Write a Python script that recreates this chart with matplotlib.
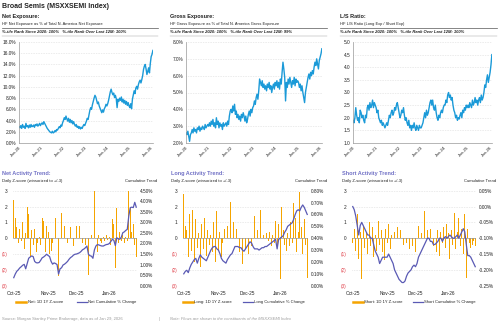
import matplotlib
matplotlib.use('Agg')
import matplotlib.pyplot as plt
import pandas as pd

plt.rcParams['font.family'] = ['Liberation Sans', 'DejaVu Sans']

W, H = 500, 326
BLUE = '#1b9ad8'
ORANGE = '#f5a400'
PURPLE = '#5a5ab4'
HEAD = '#7272c6'
GRID = '#c4c4c4'
RED = '#e0404a'
TXT = '#222222'

# ---- positioning exposure history (bi-weekly samples, Jan-20 .. Jan-26) ----
NET_EXPOSURE = [
    2.9, 2.7, 3.1, 2.6, 3.3, 2.8, 3.0, 2.6, 3.5, 2.9, 3.1, 2.7, 3.2, 2.8, 3.3, 2.9, 3.0, 3.2, 2.8, 3.3, 3.1, 3.4, 3.0, 3.2, 3.5, 3.1,
    3.4, 3.6, 3.3, 3.8, 3.5, 3.2, 2.9, 2.6, 2.4, 2.2, 2.0, 1.9, 1.8, 2.1, 1.8, 1.9, 2.2, 2.0, 2.4, 2.3, 2.6, 2.9, 2.7, 3.2, 3.0, 3.6,
    4.0, 4.5, 4.2, 4.8, 4.3, 3.9, 4.4, 3.7, 4.2, 3.6, 4.0, 3.4, 3.8, 3.3, 3.0, 3.3, 2.8, 3.0, 2.6, 2.9, 2.5, 2.8, 2.6, 3.0, 3.3, 3.1,
    3.5, 3.9, 4.4, 4.2, 5.0, 5.8, 6.3, 6.0, 6.8, 7.4, 8.0, 8.5, 8.2, 7.6, 7.0, 7.3, 6.6, 6.2, 5.8, 5.4, 5.9, 5.5, 6.1, 6.4, 6.9, 6.6,
    7.0, 7.6, 8.4, 9.1, 9.6, 9.0, 8.6, 8.9, 8.1, 8.5, 7.9, 6.3, 7.8, 7.4, 8.0, 7.6, 8.2, 7.3, 7.8, 7.1, 7.6, 6.9, 7.4, 6.7, 7.2, 6.6,
    6.3, 7.0, 6.1, 7.8, 8.6, 9.3, 8.8, 9.8, 10.1, 9.6, 10.4, 10.9, 11.2, 10.7, 11.3, 12.0, 13.1, 13.7, 14.0, 13.2, 12.2, 12.8, 13.4, 12.5, 14.2, 15.4,
    15.8, 16.5,
]
GROSS_EXPOSURE = [
    2.6, 2.5, 2.7, 2.4, 2.1, 2.5, 2.6, 2.8, 2.6, 2.9, 2.7, 2.8, 2.6, 2.9, 2.8, 3.0, 2.7, 2.9, 2.8, 3.0, 2.9, 2.8, 3.1, 2.9, 3.0, 3.1,
    3.0, 3.2, 3.0, 3.3, 3.1, 3.4, 3.0, 3.2, 2.9, 3.5, 3.1, 3.3, 2.9, 3.2, 3.0, 3.1, 2.8, 3.2, 3.0, 3.1, 3.2, 3.0, 3.3, 3.1, 3.6, 3.9,
    4.0, 3.8, 4.2, 3.9, 4.3, 3.7, 3.9, 3.5, 3.7, 3.4, 3.6, 3.3, 3.7, 3.5, 3.8, 3.6, 3.3, 3.6, 3.2, 3.4, 3.7, 3.9, 3.6, 4.0, 3.8, 4.1,
    4.2, 4.5, 4.3, 4.7, 4.9, 4.6, 5.1, 5.8, 5.6, 5.4, 5.7, 5.3, 5.5, 5.2, 5.4, 5.1, 5.5, 5.3, 5.6, 5.2, 5.4, 5.0, 5.3, 5.5, 5.2, 5.6,
    5.4, 5.7, 5.3, 5.6, 5.2, 5.8, 5.5, 6.2, 6.8, 6.4, 5.9, 4.5, 5.6, 5.3, 5.8, 5.5, 5.9, 5.6, 5.3, 5.7, 5.5, 5.9, 5.4, 5.8, 5.6, 5.7,
    5.6, 5.3, 5.5, 5.1, 5.4, 5.0, 4.7, 4.4, 5.0, 5.3, 5.6, 5.9, 6.1, 5.8, 6.2, 6.0, 6.3, 6.1, 6.5, 6.8, 6.6, 7.0, 6.7, 6.4, 6.9, 7.1,
    7.3, 7.6,
]
LS_RATIO = [
    1.9, 1.8, 2.0, 2.4, 2.1, 1.9, 2.0, 1.8, 2.3, 2.2, 2.0, 2.1, 1.9, 1.8, 2.1, 2.0, 2.4, 2.5, 2.3, 2.6, 2.4, 2.5, 2.7, 2.4, 2.6, 2.5,
    2.4, 2.2, 2.3, 2.0, 1.9, 1.8, 1.9, 1.7, 1.8, 1.7, 1.6, 1.7, 1.8, 1.7, 1.9, 2.1, 2.0, 2.2, 2.3, 2.1, 2.2, 2.4, 2.3, 2.5, 2.6, 2.4,
    2.2, 2.0, 2.1, 2.3, 2.2, 2.4, 2.1, 1.9, 2.0, 1.8, 1.7, 1.9, 1.6, 1.7, 1.5, 1.7, 1.6, 1.8, 1.6, 1.5, 1.7, 1.6, 1.5, 1.7, 1.6, 1.6,
    1.7, 1.8, 2.0, 2.2, 2.0, 2.3, 2.1, 2.2, 2.4, 2.6, 2.7, 2.5, 2.7, 2.4, 2.3, 2.5, 2.2, 2.0, 1.9, 2.1, 2.0, 2.2, 2.3, 2.2, 2.4, 2.5,
    2.5, 2.7, 2.6, 2.9, 3.0, 2.8, 2.9, 2.7, 2.8, 2.5, 2.3, 2.2, 2.0, 2.1, 1.9, 2.0, 1.95, 2.1, 2.2, 2.0, 2.3, 2.2, 2.4, 2.3, 2.5, 2.4,
    2.5, 2.4, 2.6, 2.5, 2.4, 2.7, 2.5, 2.6, 2.8, 2.6, 2.7, 2.5, 2.7, 2.8, 2.6, 2.9, 2.7, 2.8, 3.0, 3.3, 3.2, 3.5, 3.7, 3.4, 3.6, 3.8,
    4.1, 4.5,
]

# ---- daily activity, Oct-25 .. Jan-26 (83 trading days) ----
NET_Z = [
    2.4, 1.3, 0.7, -0.3, 0.6, -0.2, 1.0, -0.7, 0.3, 2.0, 1.5, -1.2, 0.5, -0.4, 0.6, -0.9, -0.3, 0.1, -0.4, 1.3,
    1.1, -0.9, 0.8, 0.4, -1.0, -0.8, -0.3, 0.2, 1.3, 0.7, -2.4, -1.5, 1.6, -0.9, 0.8, -1.1, -0.3, 2.2, 0.7, 1.2,
    -0.5, 0.3, 0.8, -0.4, 0.8, -0.7, -0.3, -1.1, -0.4, -1.7, -2.3, -0.3, 0.2, -1.8, 3.0, -0.5, -0.9, 0.2, -0.2, -0.3,
    0.1, -0.2, 0.2, -0.1, 0.1, -0.4, 1.2, 0.9, -1.9, 1.9, -0.3, 0.4, -0.2, 0.2, -0.3, 0.1, -0.2, 3.0, 2.0, 0.4,
    0.9, -0.4, -1.2,
]
NET_CUM = [
    0.38, 0.55, 0.68, 0.75, 0.84, 0.90, 0.97, 1.01, 0.80, 1.05, 1.30, 1.36, 1.41, 1.38, 1.15, 1.09, 1.08, 1.10, 1.20, 1.32,
    1.36, 1.42, 1.49, 1.43, 1.38, 1.15, 1.02, 1.08, 1.05, 1.00, 0.55, 0.80, 0.85, 0.98, 1.02, 1.08, 1.15, 1.25, 1.33, 1.38,
    1.45, 1.49, 1.50, 1.53, 1.56, 1.62, 1.70, 1.74, 1.80, 1.88, 1.49, 1.42, 1.40, 1.30, 1.70, 1.88, 1.95, 1.93, 1.90, 1.88,
    1.88, 1.92, 1.95, 1.96, 2.00, 2.10, 2.20, 2.15, 1.90, 2.27, 2.22, 2.20, 2.30, 2.51, 2.55, 2.62, 2.67, 3.30, 3.70, 3.72,
    3.70, 3.95, 3.72,
]
LONG_Z = [
    2.8, 0.8, 0.5, -1.2, 1.5, -0.8, 1.8, -1.5, 1.2, -0.6, 0.3, -1.8, 0.9, -0.7, 1.3, -1.1, 0.5, -0.4, 0.2, -0.9,
    1.0, -1.5, 1.7, -0.8, 0.4, -1.2, -0.3, 0.6, -2.0, 0.8, -0.5, 2.3, -3.0, 1.0, -1.4, 0.6, 1.5, -0.9, 0.4, -1.6,
    2.4, -0.7, 1.6, -1.0, 0.3, -0.5, 0.8, 1.4, -1.2, 0.5, -0.3, 1.8, -0.6, 0.2, -0.4, 0.3, -0.2, 0.4, -0.5, 0.2,
    -0.3, 1.1, -0.4, 0.9, -2.6, 2.0, 0.5, -0.4, -0.8, 0.3, -0.5, 1.0, -0.3, 2.2, 1.3, -0.9, 0.4, 2.9, 0.7, -1.0,
    1.2, -0.4, -2.5,
]
LONG_CUM = [
    0.10, 0.12, 0.13, 0.11, 0.15, 0.18, 0.20, 0.22, 0.23, 0.19, 0.23, 0.26, 0.24, 0.23, 0.22, 0.21, 0.24, 0.27, 0.30, 0.32,
    0.33, 0.33, 0.31, 0.30, 0.27, 0.23, 0.21, 0.20, 0.19, 0.22, 0.24, 0.26, 0.27, 0.30, 0.33, 0.33, 0.33, 0.32, 0.32, 0.30,
    0.29, 0.31, 0.33, 0.35, 0.37, 0.36, 0.33, 0.31, 0.31, 0.31, 0.30, 0.31, 0.32, 0.32, 0.33, 0.33, 0.34, 0.35, 0.36, 0.37,
    0.38, 0.39, 0.31, 0.39, 0.40, 0.41, 0.42, 0.45, 0.47, 0.50, 0.51, 0.52, 0.53, 0.56, 0.60, 0.63, 0.64, 0.63, 0.66, 0.68,
    0.66, 0.63, 0.60,
]
SHORT_Z = [
    -0.3, 0.6, -0.8, 1.5, -1.3, 0.4, -2.6, 0.8, -0.6, 0.3, -1.0, 1.0, -0.5, 0.7, -1.2, 0.2, -0.8, 1.1, -0.4, 0.5,
    -0.9, -1.4, 0.6, -0.3, 0.9, -0.7, 0.2, -0.5, 0.4, -0.2, 0.7, -0.6, 0.5, 1.3, -0.4, 0.8, -0.3, 0.6, -0.7, 0.3,
    -0.5, 1.2, -0.9, 0.4, 0.8, -0.6, 0.3, -1.0, 1.7, -0.8, 0.5, -0.4, 0.6, 1.4, -0.5, 0.3, -0.9, 0.5, -1.1, 0.4,
    -0.3, 0.7, -0.6, 0.9, 0.3, -1.3, 0.5, -0.4, 1.6, -0.7, 0.4, 1.3, -0.5, 0.6, -1.0, 1.5, -2.5, 0.6, -0.3, -0.6,
    -0.4, -0.2, -0.5,
]
SHORT_CUM = [
    0.00, -0.01, -0.03, -0.06, -0.09, -0.06, -0.05, -0.06, -0.07, -0.08, -0.09, -0.09, -0.10, -0.10, -0.12, -0.14, -0.15, -0.16, -0.18, -0.17,
    -0.16, -0.16, -0.16, -0.16, -0.15, -0.16, -0.17, -0.18, -0.20, -0.21, -0.22, -0.23, -0.235, -0.24, -0.24, -0.235, -0.22, -0.21, -0.205, -0.20,
    -0.19, -0.185, -0.19, -0.18, -0.16, -0.15, -0.14, -0.13, -0.12, -0.11, -0.10, -0.10, -0.11, -0.11, -0.12, -0.12, -0.115, -0.11, -0.10, -0.10,
    -0.11, -0.10, -0.095, -0.10, -0.095, -0.09, -0.095, -0.10, -0.10, -0.095, -0.09, -0.10, -0.09, -0.08, -0.07, -0.08, -0.12, -0.155, -0.155, -0.16,
    -0.17, -0.18, -0.19,
]

MONTH_LABELS = ['Oct-25', 'Nov-25', 'Dec-25', 'Jan-26']
HOLIDAYS = ['2025-11-27', '2025-12-25', '2026-01-01', '2026-01-19']

top_dates = pd.date_range('2020-01-03', '2026-01-29', periods=len(NET_EXPOSURE))
days = pd.bdate_range('2025-10-01', '2026-01-29')
days = days[~days.isin(pd.to_datetime(HOLIDAYS))]
month_pos = [days.get_indexer([d])[0] for d in
             [days[days.month == m][0] for m in (10, 11, 12, 1)]]


def box(fig, x0, y0, x1, y1):
    return fig.add_axes([x0 / W, 1 - y1 / H, (x1 - x0) / W, (y1 - y0) / H])


def put(fig, x, y, s, **kw):
    kw.setdefault('va', 'center')
    kw.setdefault('color', TXT)
    fig.text(x / W, 1 - y / H, s, **kw)


def rule(fig, x0, x1, y, lw=0.5, color='#555555'):
    fig.add_artist(plt.Line2D([x0 / W, x1 / W], [1 - y / H, 1 - y / H],
                              color=color, lw=lw, transform=fig.transFigure))


def exposure_panel(fig, x0, x1, hx, hx1, title, sub, rank, values, lo, hi, step, fmt):
    put(fig, hx, 16.5, title, fontsize=4.0, fontweight='bold')
    put(fig, hx, 24.3, sub, fontsize=2.9)
    rule(fig, hx, hx1, 27.6)
    put(fig, hx, 32.4, rank, fontsize=3.0, fontweight='bold', style='italic')
    rule(fig, hx, hx1, 35.6, lw=0.3, color='#999999')

    ax = box(fig, x0, 42, x1, 143)
    ax.plot(top_dates, values, color=BLUE, lw=1.0)
    ax.set_xlim(pd.Timestamp('2020-01-01'), pd.Timestamp('2026-01-31'))
    ax.set_ylim(lo, hi)
    ticks = [lo + k * step for k in range(round((hi - lo) / step) + 1)]
    ax.set_yticks(ticks)
    ax.set_yticklabels([fmt % t for t in ticks])
    years = [pd.Timestamp(f'{y}-01-01') for y in range(2020, 2027)]
    ax.set_xticks(years)
    ax.set_xticklabels([f'Jan-{y % 100:02d}' for y in range(2020, 2027)],
                       rotation=45, ha='right', rotation_mode='anchor')
    ax.grid(axis='y', color=GRID, lw=0.4, ls=(0, (1, 2)))
    ax.set_axisbelow(True)
    for s in ('top', 'right'):
        ax.spines[s].set_visible(False)
    for s in ('left', 'bottom'):
        ax.spines[s].set_color('#999999')
        ax.spines[s].set_linewidth(0.5)
    ax.tick_params(labelsize=3.4, length=0, pad=2, colors=TXT)
    ax.tick_params(axis='x', pad=1.5, labelsize=3.2)


def activity_panel(fig, x0, x1, hx, rx, title, zs, cum, lo, hi, step, fmt, name, lx):
    put(fig, hx, 173, title, fontsize=4.0, fontweight='bold', color=HEAD)
    put(fig, hx, 181, 'Daily Z-score (winsorized to +/-3)', fontsize=3.0)
    put(fig, rx, 181, 'Cumulative Trend', fontsize=3.0, ha='right')

    ax = box(fig, x0, 190.7, x1, 285.7)
    idx = list(range(len(zs)))
    ax.bar(idx, zs, width=0.55, color=ORANGE, lw=0)
    ax.axhline(0, color='#999999', lw=0.5)
    ax.set_ylim(-3, 3)
    ax.set_xlim(-0.5, len(zs) - 0.5)
    ax.set_yticks(range(-3, 4))
    ax.set_yticklabels([str(v) if v >= 0 else f'({-v})' for v in range(-3, 4)])
    ax.set_xticks(month_pos)
    ax.set_xticklabels(MONTH_LABELS)
    ax.grid(axis='y', color=GRID, lw=0.4, ls=(0, (1, 2)))
    ax.set_axisbelow(True)
    for s in ax.spines.values():
        s.set_visible(False)
    ax.tick_params(labelsize=3.4, length=0, pad=4, colors=TXT)
    for lab, v in zip(ax.get_yticklabels(), range(-3, 4)):
        lab.set_color(RED if v < 0 else TXT)

    ax2 = ax.twinx()
    ax2.plot(idx, cum, color=PURPLE, lw=0.9)
    ax2.set_ylim(lo, hi)
    ticks = [lo + k * step for k in range(round((hi - lo) / step) + 1)]
    ax2.set_yticks(ticks)
    ax2.set_yticklabels([fmt % t for t in ticks])
    for s in ax2.spines.values():
        s.set_visible(False)
    ax2.tick_params(labelsize=3.4, length=0, pad=2, colors=TXT)

    # legend row
    ly = 302.3
    rule(fig, lx, lx + 10, ly, lw=1.8, color=ORANGE)
    put(fig, lx + 11.5, ly, f'{name}: 1D 1Y Z-score', fontsize=3.0)
    px = lx + 60 if name != 'Net' else lx + 61
    rule(fig, px, px + 10, ly, lw=0.9, color=PURPLE)
    put(fig, px + 11.5, ly, f'{name} Cumulative % Change', fontsize=3.0)


fig = plt.figure(figsize=(W / 100, H / 100), dpi=100)
fig.patch.set_facecolor('white')

put(fig, 2, 6.5, 'Broad Semis (MSXXSEMI Index)', fontsize=5.0, fontweight='bold')

exposure_panel(fig, 19, 153, 2, 158, 'Net Exposure:',
               'HF Net Exposure as % of Total N. America Net Exposure',
               '%-tile Rank Since 2020: 100%   %-tile Rank Over Last 12M: 100%',
               NET_EXPOSURE, 0, 18, 2, '%.1f%%')
exposure_panel(fig, 186, 322, 170, 327, 'Gross Exposure:',
               'HF Gross Exposure as % of Total N. America Gross Exposure',
               '%-tile Rank Since 2020: 100%   %-tile Rank Over Last 12M: 99%',
               GROSS_EXPOSURE, 2, 8, 1, '%.1f%%')
exposure_panel(fig, 353, 492, 340, 497, 'L/S Ratio:',
               'HF L/S Ratio (Long Exp / Short Exp)',
               '%-tile Rank Since 2020: 100%   %-tile Rank Over Last 12M: 100%',
               LS_RATIO, 1.0, 5.0, 0.5, '%.1f')

activity_panel(fig, 13, 137, 2, 157, 'Net Activity Trend:', NET_Z, NET_CUM,
               0.0, 4.5, 0.5, '%.2f%%', 'Net', 16)
activity_panel(fig, 183, 308, 171, 327, 'Long Activity Trend:', LONG_Z, LONG_CUM,
               0.0, 0.8, 0.1, '%.2f%%', 'Long', 183)
activity_panel(fig, 352, 476, 342, 496, 'Short Activity Trend:', SHORT_Z, SHORT_CUM,
               -0.25, 0.05, 0.05, '%.2f%%', 'Short', 353)

put(fig, 2, 319, 'Source: Morgan Stanley Prime Brokerage, data as of Jan 29, 2026',
    fontsize=3.0, color='#9a9a9a')
put(fig, 159, 319, '|', fontsize=3.0, color='#9a9a9a')
put(fig, 170, 319, 'Note: Flows are shown to the constituents of the MSXXSEMI Index',
    fontsize=3.0, color='#9a9a9a', style='italic')

fig.savefig('out.png', dpi=100, facecolor='white')
